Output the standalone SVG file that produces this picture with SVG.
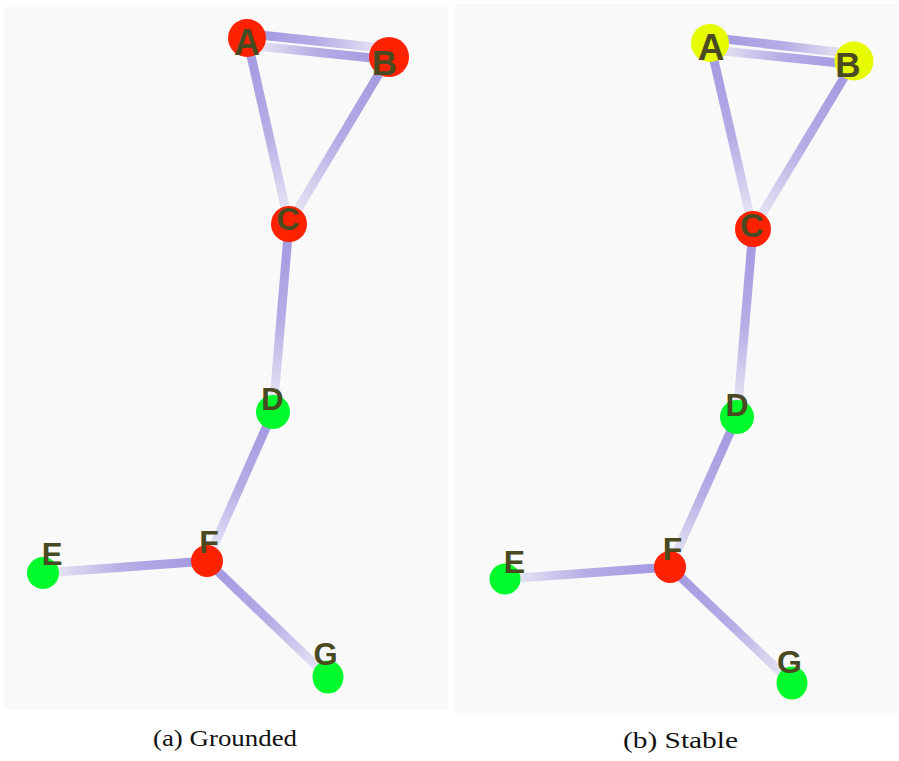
<svg xmlns="http://www.w3.org/2000/svg" width="899" height="761" viewBox="0 0 899 761">
  <defs>
    <!-- shared fade: opaque at the source end, almost clear at the target end -->
    <linearGradient id="fade">
      <stop offset="0" stop-color="#a097e0" stop-opacity="1"/>
      <stop offset="0.5" stop-color="#a097e0" stop-opacity="0.78"/>
      <stop offset="1" stop-color="#a097e0" stop-opacity="0.12"/>
    </linearGradient>
    <!-- per-edge directions, panel (a) -->
    <linearGradient id="a-ab" href="#fade" gradientUnits="userSpaceOnUse" x1="247" y1="33.6" x2="389" y2="48.8"/>
    <linearGradient id="a-ba" href="#fade" gradientUnits="userSpaceOnUse" x1="389" y1="59.8" x2="247" y2="45.1"/>
    <linearGradient id="a-ac" href="#fade" gradientUnits="userSpaceOnUse" x1="247" y1="38" x2="289" y2="224"/>
    <linearGradient id="a-bc" href="#fade" gradientUnits="userSpaceOnUse" x1="389" y1="57" x2="289" y2="224"/>
    <linearGradient id="a-cd" href="#fade" gradientUnits="userSpaceOnUse" x1="289" y1="224" x2="273" y2="412"/>
    <linearGradient id="a-df" href="#fade" gradientUnits="userSpaceOnUse" x1="273" y1="412" x2="207" y2="561"/>
    <linearGradient id="a-fe" href="#fade" gradientUnits="userSpaceOnUse" x1="207" y1="561" x2="43" y2="573"/>
    <linearGradient id="a-fg" href="#fade" gradientUnits="userSpaceOnUse" x1="207" y1="561" x2="328" y2="677"/>
    <!-- per-edge directions, panel (b) -->
    <linearGradient id="b-ab" href="#fade" gradientUnits="userSpaceOnUse" x1="710" y1="37.4" x2="854" y2="53.9"/>
    <linearGradient id="b-ba" href="#fade" gradientUnits="userSpaceOnUse" x1="854" y1="64.4" x2="710" y2="49.7"/>
    <linearGradient id="b-ac" href="#fade" gradientUnits="userSpaceOnUse" x1="710" y1="43" x2="753" y2="229"/>
    <linearGradient id="b-bc" href="#fade" gradientUnits="userSpaceOnUse" x1="854" y1="61" x2="753" y2="229"/>
    <linearGradient id="b-cd" href="#fade" gradientUnits="userSpaceOnUse" x1="753" y1="229" x2="737" y2="417"/>
    <linearGradient id="b-df" href="#fade" gradientUnits="userSpaceOnUse" x1="737" y1="417" x2="670" y2="567"/>
    <linearGradient id="b-fe" href="#fade" gradientUnits="userSpaceOnUse" x1="670" y1="567" x2="505" y2="579"/>
    <linearGradient id="b-fg" href="#fade" gradientUnits="userSpaceOnUse" x1="670" y1="567" x2="792" y2="683"/>
  </defs>
  <style>
    .panel { fill: #f9f9f9; }
    .edge { stroke-width: 9; fill: none; }
    .red { fill: #ff2200; }
    .green { fill: #00fb2c; }
    .yellow { fill: #e6fb00; }
    .lbl { font-family: "Liberation Sans", Arial, sans-serif; font-weight: bold; fill: #4a4a22; text-anchor: middle; }
    .cap { font-family: "Liberation Serif", "Times New Roman", serif; font-size: 24px; fill: #111; text-anchor: middle; }
  </style>

  <rect width="899" height="761" fill="#ffffff"/>

  <!-- panel (a) -->
  <g id="panel-a">
    <rect class="panel" x="4" y="7" width="444" height="703"/>
    <g id="edges-a">
      <line class="edge" stroke="url(#a-ab)" x1="247" y1="33.6" x2="389" y2="48.8"/>
      <line class="edge" stroke="url(#a-ba)" x1="247" y1="45.1" x2="389" y2="59.8"/>
      <line class="edge" stroke="url(#a-ac)" x1="247" y1="38" x2="289" y2="224"/>
      <line class="edge" stroke="url(#a-bc)" x1="389" y1="57" x2="289" y2="224"/>
      <line class="edge" stroke="url(#a-cd)" x1="289" y1="224" x2="273" y2="412"/>
      <line class="edge" stroke="url(#a-df)" x1="273" y1="412" x2="207" y2="561"/>
      <line class="edge" stroke="url(#a-fe)" x1="207" y1="561" x2="43" y2="573"/>
      <line class="edge" stroke="url(#a-fg)" x1="207" y1="561" x2="328" y2="677"/>
    </g>
    <g id="a-A"><circle class="red" cx="247" cy="38" r="19"/><text class="lbl" x="247" y="54.5" font-size="36">A</text></g>
    <g id="a-B"><circle class="red" cx="389" cy="57" r="20"/><text class="lbl" x="384.5" y="74.5" font-size="35">B</text></g>
    <g id="a-C"><circle class="red" cx="289" cy="224" r="18"/><text class="lbl" x="288" y="230" font-size="32">C</text></g>
    <g id="a-D"><circle class="green" cx="273" cy="412" r="17"/><text class="lbl" x="272.5" y="410" font-size="31">D</text></g>
    <g id="a-E"><circle class="green" cx="43" cy="573" r="16"/><text class="lbl" x="52" y="565" font-size="31">E</text></g>
    <g id="a-F"><circle class="red" cx="207" cy="561" r="16"/><text class="lbl" x="209" y="553" font-size="32">F</text></g>
    <g id="a-G"><ellipse class="green" cx="328" cy="677" rx="15.5" ry="16.5"/><text class="lbl" x="325.5" y="664.5" font-size="31">G</text></g>
    <text class="cap" x="225" y="746" textLength="144" lengthAdjust="spacingAndGlyphs">(a) Grounded</text>
  </g>

  <!-- panel (b) -->
  <g id="panel-b">
    <rect class="panel" x="455" y="4" width="443" height="709"/>
    <g id="edges-b">
      <line class="edge" stroke="url(#b-ab)" x1="710" y1="37.4" x2="854" y2="53.9"/>
      <line class="edge" stroke="url(#b-ba)" x1="710" y1="49.7" x2="854" y2="64.4"/>
      <line class="edge" stroke="url(#b-ac)" x1="710" y1="43" x2="753" y2="229"/>
      <line class="edge" stroke="url(#b-bc)" x1="854" y1="61" x2="753" y2="229"/>
      <line class="edge" stroke="url(#b-cd)" x1="753" y1="229" x2="737" y2="417"/>
      <line class="edge" stroke="url(#b-df)" x1="737" y1="417" x2="670" y2="567"/>
      <line class="edge" stroke="url(#b-fe)" x1="670" y1="567" x2="505" y2="579"/>
      <line class="edge" stroke="url(#b-fg)" x1="670" y1="567" x2="792" y2="683"/>
    </g>
    <g id="b-A"><circle class="yellow" cx="710" cy="43" r="19"/><text class="lbl" x="711" y="60" font-size="37">A</text></g>
    <g id="b-B"><circle class="yellow" cx="854" cy="61" r="19.5"/><text class="lbl" x="848" y="77" font-size="35">B</text></g>
    <g id="b-C"><circle class="red" cx="753" cy="229" r="18"/><text class="lbl" x="752" y="236.5" font-size="33">C</text></g>
    <g id="b-D"><circle class="green" cx="737" cy="417" r="17"/><text class="lbl" x="737" y="416" font-size="32">D</text></g>
    <g id="b-E"><circle class="green" cx="505" cy="579" r="15.5"/><text class="lbl" x="514.5" y="573" font-size="32">E</text></g>
    <g id="b-F"><circle class="red" cx="670" cy="567" r="16"/><text class="lbl" x="672.5" y="560" font-size="32">F</text></g>
    <g id="b-G"><ellipse class="green" cx="792" cy="683" rx="15.5" ry="16.5"/><text class="lbl" x="789.5" y="672.5" font-size="32">G</text></g>
    <text class="cap" x="680.5" y="748" textLength="115" lengthAdjust="spacingAndGlyphs">(b) Stable</text>
  </g>
</svg>
